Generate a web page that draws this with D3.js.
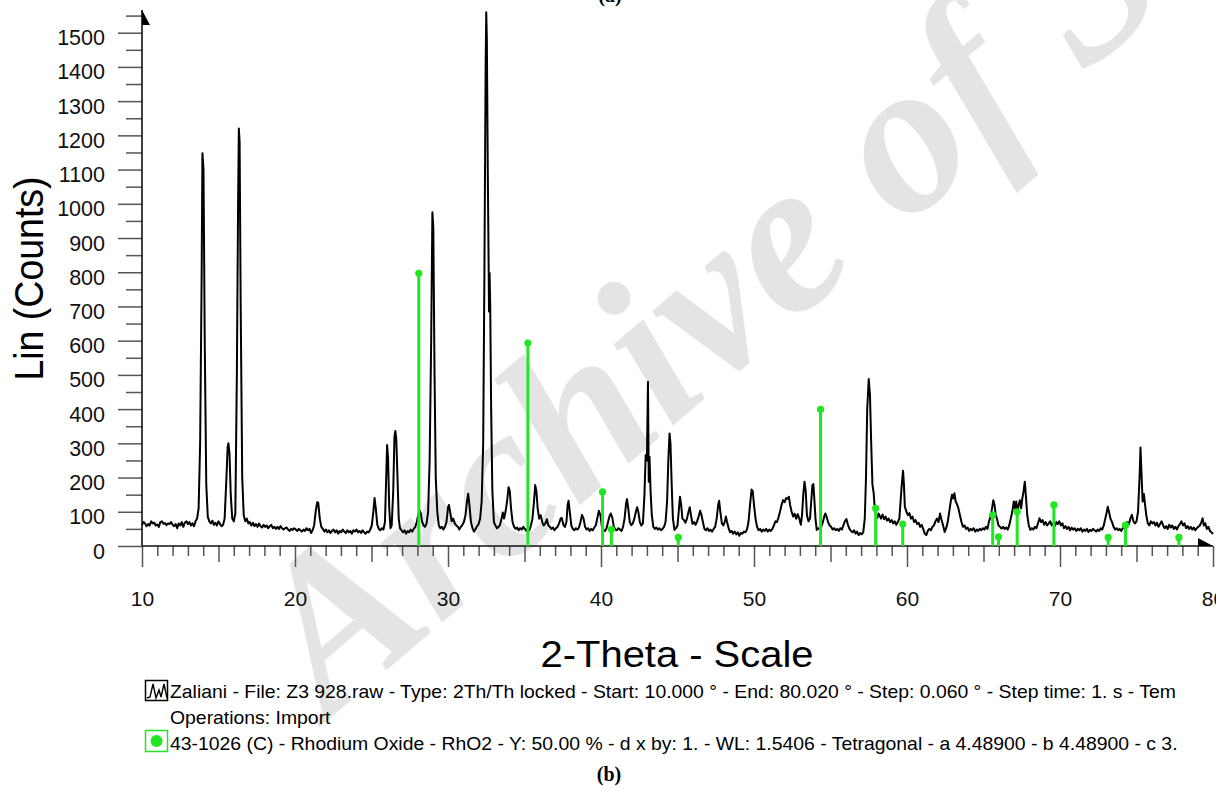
<!DOCTYPE html>
<html>
<head>
<meta charset="utf-8">
<script src="https://cdn.jsdelivr.net/npm/d3@7"></script>
<style>
  html, body { margin: 0; padding: 0; background: #fff; }
  svg { display: block; font-family: "Liberation Sans", Arial, sans-serif; }
</style>
</head>
<body>
<div id="chart"></div>
<script>
//! ===== 0. Data ===========================
// measured scan, [2-theta, counts]
const scan = [
  [10.0, 62], [10.1, 70], [10.2, 66], [10.3, 58], [10.4, 64], [10.5, 60], [10.6, 72], [10.7, 66], [10.8, 68], [10.9, 60],
  [11.0, 63], [11.1, 56], [11.2, 70], [11.3, 72], [11.4, 65], [11.5, 67], [11.6, 61], [11.7, 66], [11.8, 64], [11.9, 70],
  [12.0, 62], [12.1, 58], [12.2, 64], [12.3, 52], [12.4, 66], [12.5, 60], [12.6, 70], [12.7, 56], [12.8, 68], [12.9, 72],
  [13.0, 64], [13.1, 70], [13.2, 60], [13.3, 66], [13.4, 58], [13.5, 72], [13.6, 80], [13.7, 110], [13.8, 300], [13.9, 800],
  [13.95, 1148], [14.02, 1100], [14.1, 600], [14.2, 180], [14.3, 85], [14.4, 72], [14.5, 66], [14.6, 74], [14.7, 62], [14.8, 68],
  [14.9, 60], [15.0, 72], [15.1, 64], [15.2, 58], [15.3, 62], [15.4, 80], [15.5, 180], [15.6, 290], [15.65, 300], [15.72, 270],
  [15.8, 150], [15.9, 80], [16.0, 72], [16.1, 95], [16.2, 500], [16.28, 1000], [16.33, 1220], [16.38, 1180], [16.45, 700], [16.55, 200],
  [16.65, 90], [16.75, 72], [16.85, 80], [16.95, 66], [17.05, 70], [17.15, 60], [17.25, 68], [17.35, 58], [17.45, 64], [17.55, 56],
  [17.65, 66], [17.75, 58], [17.85, 54], [17.95, 62], [18.05, 56], [18.15, 60], [18.25, 52], [18.35, 58], [18.45, 62], [18.55, 52],
  [18.65, 56], [18.75, 50], [18.85, 56], [18.95, 50], [19.05, 58], [19.15, 52], [19.25, 48], [19.35, 52], [19.45, 54], [19.55, 48],
  [19.65, 44], [19.75, 50], [19.85, 47], [19.95, 52], [20.05, 48], [20.15, 44], [20.25, 50], [20.35, 46], [20.45, 42], [20.55, 48],
  [20.65, 44], [20.75, 52], [20.85, 46], [20.95, 50], [21.05, 38], [21.15, 46], [21.25, 60], [21.35, 100], [21.45, 128], [21.52, 126],
  [21.62, 80], [21.72, 56], [21.82, 50], [21.92, 42], [22.02, 48], [22.12, 40], [22.22, 46], [22.32, 38], [22.42, 44], [22.52, 48],
  [22.62, 40], [22.72, 46], [22.82, 36], [22.92, 44], [23.02, 40], [23.12, 48], [23.22, 42], [23.32, 38], [23.42, 46], [23.52, 40],
  [23.62, 44], [23.72, 36], [23.82, 46], [23.92, 42], [24.02, 48], [24.12, 40], [24.22, 44], [24.32, 38], [24.42, 46], [24.52, 40],
  [24.62, 36], [24.72, 42], [24.82, 40], [24.92, 48], [25.02, 60], [25.12, 100], [25.2, 140], [25.28, 110], [25.38, 62], [25.48, 50],
  [25.58, 46], [25.68, 52], [25.78, 48], [25.88, 70], [25.96, 200], [26.02, 295], [26.08, 260], [26.16, 110], [26.24, 52], [26.32, 60],
  [26.42, 160], [26.5, 320], [26.56, 336], [26.62, 312], [26.7, 200], [26.78, 80], [26.86, 52], [26.96, 46], [27.06, 40], [27.16, 46],
  [27.26, 36], [27.36, 44], [27.46, 40], [27.56, 48], [27.66, 42], [27.76, 50], [27.86, 56], [27.96, 70], [28.06, 92], [28.14, 104],
  [28.22, 96], [28.3, 72], [28.4, 60], [28.5, 56], [28.6, 66], [28.7, 100], [28.8, 250], [28.9, 600], [28.98, 975], [29.04, 930],
  [29.12, 500], [29.2, 200], [29.3, 100], [29.4, 60], [29.5, 52], [29.6, 56], [29.7, 48], [29.8, 56], [29.9, 70], [30.0, 112],
  [30.06, 120], [30.14, 100], [30.24, 72], [30.34, 80], [30.44, 66], [30.54, 60], [30.64, 56], [30.74, 48], [30.84, 56], [30.94, 62],
  [31.04, 70], [31.14, 90], [31.24, 130], [31.32, 153], [31.4, 120], [31.5, 70], [31.6, 52], [31.7, 42], [31.8, 50], [31.9, 58],
  [32.0, 64], [32.1, 80], [32.2, 130], [32.3, 300], [32.38, 800], [32.46, 1400], [32.5, 1560], [32.54, 1480], [32.6, 1100], [32.66, 800],
  [32.68, 685], [32.7, 700], [32.72, 798], [32.76, 700], [32.82, 400], [32.9, 160], [33.0, 70], [33.1, 60], [33.2, 52], [33.3, 56],
  [33.4, 62], [33.5, 80], [33.58, 98], [33.66, 80], [33.76, 100], [33.86, 130], [33.96, 172], [34.04, 160], [34.12, 110], [34.22, 70],
  [34.32, 56], [34.42, 50], [34.52, 54], [34.62, 46], [34.72, 52], [34.82, 48], [34.92, 56], [35.02, 50], [35.12, 44], [35.22, 52],
  [35.32, 46], [35.42, 60], [35.52, 80], [35.62, 130], [35.7, 178], [35.78, 160], [35.86, 110], [35.96, 80], [36.06, 90], [36.16, 70],
  [36.26, 60], [36.36, 66], [36.46, 78], [36.56, 60], [36.66, 56], [36.76, 50], [36.86, 54], [36.96, 46], [37.06, 52], [37.16, 56],
  [37.26, 66], [37.36, 80], [37.44, 82], [37.54, 62], [37.64, 56], [37.74, 70], [37.82, 120], [37.88, 132], [37.96, 100], [38.06, 60],
  [38.16, 50], [38.26, 46], [38.36, 52], [38.46, 48], [38.56, 54], [38.66, 70], [38.76, 91], [38.86, 80], [38.96, 56], [39.06, 48],
  [39.16, 52], [39.26, 44], [39.36, 50], [39.46, 46], [39.56, 54], [39.66, 60], [39.76, 82], [39.86, 103], [39.96, 90], [40.06, 56],
  [40.16, 46], [40.26, 44], [40.36, 52], [40.46, 70], [40.56, 88], [40.64, 95], [40.74, 82], [40.84, 56], [40.94, 48], [41.04, 46],
  [41.14, 52], [41.24, 48], [41.34, 44], [41.44, 56], [41.54, 80], [41.64, 125], [41.7, 137], [41.78, 110], [41.88, 70], [41.98, 61],
  [42.08, 66], [42.18, 80], [42.28, 100], [42.36, 113], [42.44, 100], [42.54, 70], [42.64, 60], [42.74, 66], [42.84, 150], [42.92, 266],
  [43.0, 250], [43.07, 480], [43.12, 188], [43.17, 261], [43.24, 160], [43.32, 90], [43.42, 56], [43.52, 50], [43.62, 54], [43.72, 48],
  [43.82, 52], [43.92, 46], [44.02, 50], [44.12, 56], [44.22, 70], [44.32, 130], [44.4, 250], [44.48, 329], [44.54, 300], [44.62, 180],
  [44.7, 80], [44.8, 47], [44.9, 52], [45.0, 60], [45.08, 100], [45.16, 144], [45.24, 120], [45.32, 80], [45.42, 76], [45.52, 68],
  [45.62, 80], [45.72, 100], [45.8, 113], [45.88, 90], [45.98, 65], [46.08, 70], [46.18, 62], [46.28, 72], [46.38, 86], [46.48, 103],
  [46.56, 92], [46.66, 70], [46.76, 50], [46.86, 46], [46.96, 52], [47.06, 44], [47.16, 48], [47.26, 42], [47.36, 50], [47.46, 56],
  [47.56, 80], [47.66, 120], [47.72, 132], [47.8, 100], [47.9, 66], [48.0, 60], [48.1, 72], [48.16, 86], [48.24, 70], [48.34, 52],
  [48.44, 40], [48.54, 44], [48.64, 36], [48.74, 42], [48.84, 34], [48.94, 40], [49.04, 30], [49.14, 38], [49.24, 36], [49.34, 42],
  [49.44, 40], [49.54, 48], [49.64, 70], [49.74, 120], [49.84, 165], [49.92, 160], [50.0, 120], [50.1, 80], [50.2, 56], [50.3, 46],
  [50.4, 50], [50.5, 42], [50.6, 48], [50.7, 44], [50.8, 50], [50.9, 42], [51.0, 48], [51.1, 44], [51.2, 50], [51.3, 60],
  [51.4, 72], [51.5, 70], [51.6, 83], [51.7, 100], [51.8, 120], [51.9, 134], [52.0, 128], [52.1, 140], [52.2, 138], [52.28, 144],
  [52.36, 120], [52.46, 100], [52.56, 86], [52.66, 94], [52.76, 80], [52.86, 93], [52.96, 80], [53.06, 62], [53.14, 90], [53.22, 150],
  [53.3, 188], [53.38, 160], [53.46, 90], [53.56, 72], [53.66, 80], [53.74, 130], [53.82, 178], [53.88, 181], [53.94, 140], [54.02, 80],
  [54.1, 47], [54.2, 52], [54.3, 48], [54.4, 56], [54.5, 70], [54.6, 88], [54.66, 95], [54.74, 86], [54.84, 70], [54.94, 60],
  [55.04, 56], [55.14, 48], [55.24, 52], [55.34, 46], [55.44, 50], [55.54, 44], [55.64, 52], [55.74, 48], [55.84, 60], [55.94, 72],
  [56.04, 79], [56.14, 62], [56.24, 50], [56.34, 44], [56.44, 40], [56.54, 46], [56.64, 36], [56.74, 42], [56.84, 32], [56.94, 38],
  [57.04, 34], [57.14, 40], [57.24, 80], [57.32, 200], [57.4, 400], [57.5, 488], [57.58, 440], [57.66, 300], [57.74, 180], [57.82, 155],
  [57.9, 105], [57.98, 90], [58.06, 82], [58.14, 95], [58.22, 88], [58.3, 80], [58.4, 92], [58.5, 78], [58.6, 86], [58.7, 74],
  [58.8, 80], [58.9, 70], [59.0, 76], [59.1, 66], [59.2, 72], [59.3, 62], [59.4, 70], [59.5, 80], [59.58, 130], [59.66, 180],
  [59.74, 220], [59.8, 180], [59.86, 115], [59.96, 100], [60.06, 90], [60.16, 96], [60.26, 80], [60.36, 86], [60.46, 70], [60.56, 76],
  [60.66, 64], [60.76, 68], [60.86, 56], [60.96, 62], [61.06, 50], [61.16, 36], [61.26, 32], [61.36, 44], [61.46, 50], [61.56, 46],
  [61.66, 56], [61.76, 60], [61.86, 72], [61.96, 80], [62.06, 70], [62.16, 95], [62.26, 76], [62.36, 60], [62.46, 41], [62.56, 52],
  [62.66, 70], [62.76, 100], [62.86, 130], [62.94, 150], [63.02, 139], [63.1, 154], [63.18, 130], [63.26, 123], [63.36, 110], [63.46, 90],
  [63.56, 70], [63.66, 56], [63.76, 60], [63.86, 50], [63.96, 54], [64.06, 44], [64.16, 50], [64.26, 46], [64.36, 52], [64.46, 42],
  [64.56, 48], [64.66, 44], [64.76, 50], [64.86, 46], [64.96, 52], [65.06, 48], [65.16, 56], [65.26, 50], [65.36, 72], [65.46, 86],
  [65.56, 110], [65.64, 134], [65.72, 120], [65.8, 90], [65.88, 80], [65.98, 60], [66.08, 56], [66.18, 51], [66.28, 56], [66.38, 50],
  [66.48, 54], [66.58, 48], [66.68, 60], [66.78, 80], [66.88, 100], [66.98, 130], [67.06, 110], [67.14, 130], [67.22, 100], [67.3, 120],
  [67.38, 134], [67.46, 110], [67.54, 140], [67.62, 160], [67.7, 188], [67.78, 140], [67.86, 90], [67.96, 60], [68.06, 47], [68.16, 52],
  [68.26, 48], [68.36, 56], [68.46, 52], [68.56, 66], [68.66, 81], [68.76, 70], [68.86, 76], [68.96, 62], [69.06, 70], [69.16, 60],
  [69.26, 66], [69.36, 72], [69.46, 60], [69.56, 66], [69.66, 58], [69.76, 70], [69.86, 64], [69.96, 72], [70.06, 60], [70.16, 66],
  [70.26, 52], [70.36, 58], [70.46, 50], [70.56, 56], [70.66, 46], [70.76, 54], [70.86, 48], [70.96, 52], [71.06, 44], [71.16, 50],
  [71.26, 46], [71.36, 52], [71.46, 42], [71.56, 48], [71.66, 44], [71.76, 50], [71.86, 41], [71.96, 47], [72.06, 44], [72.16, 50],
  [72.26, 46], [72.36, 42], [72.46, 48], [72.56, 44], [72.66, 52], [72.76, 48], [72.86, 60], [72.96, 80], [73.06, 100], [73.12, 115],
  [73.2, 100], [73.3, 80], [73.4, 70], [73.5, 56], [73.6, 48], [73.7, 52], [73.8, 46], [73.9, 50], [74.0, 44], [74.1, 52],
  [74.2, 56], [74.3, 62], [74.4, 70], [74.5, 64], [74.6, 80], [74.7, 91], [74.8, 72], [74.9, 66], [75.0, 72], [75.1, 100],
  [75.2, 200], [75.26, 288], [75.32, 220], [75.4, 130], [75.48, 152], [75.56, 120], [75.64, 90], [75.74, 66], [75.84, 60], [75.94, 72],
  [76.04, 66], [76.14, 70], [76.24, 60], [76.34, 68], [76.44, 56], [76.54, 64], [76.64, 72], [76.74, 60], [76.84, 52], [76.94, 58],
  [77.04, 50], [77.14, 62], [77.24, 54], [77.34, 60], [77.44, 50], [77.54, 56], [77.64, 48], [77.74, 58], [77.84, 64], [77.94, 72],
  [78.04, 60], [78.14, 66], [78.24, 52], [78.34, 58], [78.44, 50], [78.54, 56], [78.64, 48], [78.74, 54], [78.84, 46], [78.94, 52],
  [79.04, 56], [79.14, 60], [79.24, 70], [79.32, 81], [79.4, 60], [79.5, 66], [79.6, 50], [79.7, 56], [79.8, 44], [79.9, 40],
  [80.0, 35]
];

// 43-1026 (C) RhO2 reference lines
const refAngles = [28.09, 35.22, 40.1, 40.68, 45.05, 54.35, 57.95, 59.72, 65.6, 65.98, 67.2, 69.6, 73.15, 74.28, 77.77];
const refCounts = [797, 593, 158, 49, 25, 399, 110, 64, 91, 27, 100, 120, 25, 61, 25];

const yLabels = [0, 100, 200, 300, 400, 500, 600, 700, 800, 900, 1000, 1100, 1200, 1300, 1400, 1500];
const xLabels = [10, 20, 30, 40, 50, 60, 70, 80];

const legendLines = [
  "Zaliani - File: Z3 928.raw - Type: 2Th/Th locked - Start: 10.000 ° - End: 80.020 ° - Step: 0.060 ° - Step time: 1. s - Tem",
  "Operations: Import",
  "43-1026 (C) - Rhodium Oxide - RhO2 - Y: 50.00 % - d x by: 1. - WL: 1.5406 - Tetragonal - a 4.48900 - b 4.48900 - c 3."
];

const green = "#22e622";
const stretch = 1.065;   // the figure is a bit wider than tall

//! ===== I. Frame =====
const width = 1225, height = 791;

const svg = d3.select("#chart")
  .append("svg")
  .attr("width", width)
  .attr("height", height);

svg.append("defs").append("clipPath")
    .attr("id", "page")
  .append("rect")
    .attr("width", 1216)
    .attr("height", height);

const root = svg.append("g").attr("clip-path", "url(#page)");

// watermark behind everything
root.append("text")
  .attr("transform", "translate(328,720) rotate(-40.5)")
  .attr("font-family", "'Liberation Serif', 'Times New Roman', serif")
  .attr("font-weight", "bold")
  .attr("font-style", "italic")
  .attr("font-size", 218)
  .attr("fill", "#e4e4e4")
  .text("Archive of SID");

const x = d3.scaleLinear().domain([10, 80]).range([142, 1213]);
const y = d3.scaleLinear().domain([0, 1500]).range([546, 32.7]);
const yTop = 1566;   // where the arrow of the y axis ends

//! ===== II. Axes =====
const tickColor = "#555";

function styleTicks(g){
  g.select(".domain").remove();
  g.selectAll(".tick line").attr("stroke", tickColor).attr("stroke-width", 1.5);
}

// y axis, labelled ticks every 100 and half ticks between
root.append("g")
    .attr("transform", `translate(${x(10)},0)`)
    .call(d3.axisLeft(y).tickValues(yLabels).tickFormat(d3.format("d")).tickSize(24).tickPadding(13))
    .call(styleTicks)
    .call(g => g.selectAll("text")
        .attr("dy", null)
        .attr("y", 12)
        .attr("font-size", 21.5)
        .attr("font-family", "'Liberation Sans', Arial, sans-serif")
        .attr("fill", "#111"));

root.append("g")
    .attr("transform", `translate(${x(10)},0)`)
    .call(d3.axisLeft(y).tickValues(d3.range(50, yTop, 100)).tickSize(16).tickFormat(""))
    .call(styleTicks);

// x axis : 10s long, 5s middle, units short
root.append("g")
    .attr("transform", `translate(0,${y(0)})`)
    .call(d3.axisBottom(x).tickValues(xLabels).tickFormat(d3.format("d")).tickSize(21).tickPadding(24))
    .call(styleTicks)
    .call(g => g.selectAll("text")
        .attr("font-size", 21)
        .attr("font-family", "'Liberation Sans', Arial, sans-serif")
        .attr("fill", "#111"));

root.append("g")
    .attr("transform", `translate(0,${y(0)})`)
    .call(d3.axisBottom(x).tickValues(d3.range(15, 80, 10)).tickSize(16).tickFormat(""))
    .call(styleTicks);

root.append("g")
    .attr("transform", `translate(0,${y(0)})`)
    .call(d3.axisBottom(x).tickValues(d3.range(11, 80).filter(v => v % 5 !== 0)).tickSize(10).tickFormat(""))
    .call(styleTicks);

// axis lines with their arrow heads
root.append("line")
  .attr("x1", x(10)).attr("x2", x(10))
  .attr("y1", y(0)).attr("y2", y(yTop))
  .attr("stroke", "#111").attr("stroke-width", 1.6);

root.append("line")
  .attr("x1", x(10)).attr("x2", x(80))
  .attr("y1", y(0)).attr("y2", y(0))
  .attr("stroke", "#111").attr("stroke-width", 1.6);

root.append("polygon")
  .attr("points", `${x(10)},${y(yTop)} ${x(10) + 8},${y(yTop) + 15} ${x(10)},${y(yTop) + 15}`)
  .attr("fill", "#000");

root.append("polygon")
  .attr("points", `${x(80) - 15},${y(0) - 8} ${x(80)},${y(0)} ${x(80) - 15},${y(0)}`)
  .attr("fill", "#000");

//! ===== III. Scan and reference lines =====
const line = d3.line()
  .x(d => x(d[0]))
  .y(d => y(d[1]));

root.append("path")
  .datum(scan)
  .attr("d", line)
  .attr("fill", "none")
  .attr("stroke", "#000")
  .attr("stroke-width", 2)
  .attr("stroke-linejoin", "round");

const refs = refAngles.map((a, i) => ({angle: a, count: refCounts[i]}));

root.append("g").selectAll("line")
  .data(refs)
  .enter()
  .append("line")
  .attr("x1", d => x(d.angle)).attr("x2", d => x(d.angle))
  .attr("y1", y(0)).attr("y2", d => y(d.count))
  .attr("stroke", green)
  .attr("stroke-width", 3);

root.append("g").selectAll("circle")
  .data(refs)
  .enter()
  .append("circle")
  .attr("cx", d => x(d.angle))
  .attr("cy", d => y(d.count))
  .attr("r", 3.6)
  .attr("fill", green);

//! ===== IV. Titles =====
root.append("text")
  .attr("transform", `translate(43,278.5) scale(${stretch},1) rotate(-90)`)
  .attr("text-anchor", "middle")
  .attr("font-size", 37.5)
  .attr("fill", "#000")
  .text("Lin (Counts)");

root.append("text")
  .attr("transform", `translate(677,667) scale(${stretch},1)`)
  .attr("text-anchor", "middle")
  .attr("font-size", 37.5)
  .attr("fill", "#000")
  .text("2-Theta - Scale");

//! ===== V. Legend =====
const legendY = [698, 724, 750];

root.append("g").selectAll("text")
  .data(legendLines)
  .enter()
  .append("text")
  .attr("transform", (d, i) => `translate(170,${legendY[i]}) scale(${stretch},1)`)
  .attr("font-size", 18.2)
  .attr("fill", "#000")
  .text(d => d);

// scan symbol
root.append("rect")
  .attr("x", 145.5).attr("y", 680.5).attr("width", 22).attr("height", 20)
  .attr("fill", "none").attr("stroke", "#000").attr("stroke-width", 1.5);

root.append("path")
  .attr("d", "M147,698 L150,697 L153,684 L156,698 L159,690 L161,697 L164,684 L167,698")
  .attr("fill", "none").attr("stroke", "#000").attr("stroke-width", 1.4);

// reference symbol
root.append("rect")
  .attr("x", 145.5).attr("y", 730.5).attr("width", 22).attr("height", 21)
  .attr("fill", "none").attr("stroke", green).attr("stroke-width", 1.5);

root.append("circle")
  .attr("cx", 156.5).attr("cy", 741).attr("r", 6)
  .attr("fill", green);

//! ===== VI. Panel marks =====
root.append("text")
  .attr("x", 610).attr("y", 1.5)
  .attr("text-anchor", "middle")
  .attr("font-family", "'Liberation Serif', 'Times New Roman', serif")
  .attr("font-weight", "bold")
  .attr("font-size", 20)
  .text("(a)");

root.append("text")
  .attr("x", 609).attr("y", 781)
  .attr("text-anchor", "middle")
  .attr("font-family", "'Liberation Serif', 'Times New Roman', serif")
  .attr("font-weight", "bold")
  .attr("font-size", 20)
  .text("(b)");
</script>
</body>
</html>
